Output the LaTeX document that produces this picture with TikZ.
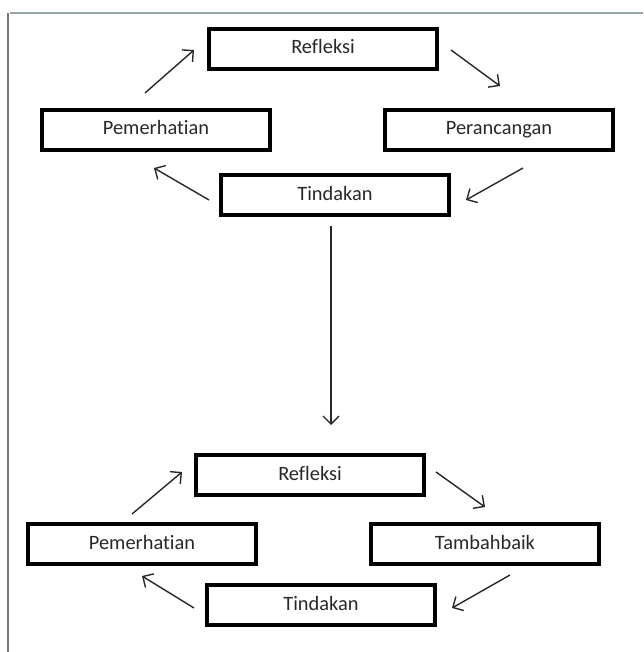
\documentclass[tikz,border=0pt]{standalone}
\usepackage{fontspec}
\setmainfont{Carlito}[Ligatures=NoCommon]
\usepackage{xcolor}
\usepackage{tikz}
\usetikzlibrary{arrows.meta, positioning, calc}
\definecolor{mydark}{RGB}{40,40,40}
\definecolor{mygrey}{RGB}{120,120,120}
\definecolor{myframe}{RGB}{150,165,170}
\tikzset{
  block/.style={rectangle, draw=black, fill=white,
    minimum width=114pt, minimum height=20pt,
    text height=7pt, text depth=2pt,
    font=\fontsize{10.2}{12}\selectfont, text=mydark, line width=2pt},
  arrow/.style={-{Straight Barb[length=4pt,width=8pt]}, line width=0.7pt, color=mydark},
  frame/.style={line width=1pt}
}

\begin{document}
\begin{tikzpicture}[x=0.5pt, y=-0.5pt]

  \useasboundingbox (0,0) rectangle (643,652);

  % Frame
  \draw[frame, color=myframe] (10,13) -- (643,13);
  \draw[frame, color=mygrey] (8,13) -- (8,652);

  % Nodes (first cycle)
  \node[block] (ref1) at (323,49) {Refleksi};
  \node[block] (pem1) at (156,130) {Pemerhatian};
  \node[block] (per1) at (499,130) {Perancangan};
  \node[block] (tin1) at (335,195) {Tindakan};

  % Nodes (second cycle)
  \node[block] (ref2) at (310,475) {Refleksi};
  \node[block] (pem2) at (142,544) {Pemerhatian};
  \node[block] (tam2) at (485,544) {Tambahbaik};
  \node[block] (tin2) at (321,605) {Tindakan};

  % Paths
  \draw[arrow] ([shift={(-11,-15)}]pem1.north) -- ([shift={(-13,1)}]ref1.west);
  \draw[arrow] ([shift={(12,1)}]ref1.east) -- ([shift={(1,-22)}]per1.north);
  \draw[arrow] ([shift={(24,16)}]per1.south) -- ([shift={(15,5)}]tin1.east);
  \draw[arrow] ([shift={(-10,5)}]tin1.west) -- ([shift={(-2,16)}]pem1.south);

  \draw[arrow] ([shift={(-4,9)}]tin1.south) -- ([shift={(21,-28)}]ref2.north);

  \draw[arrow] ([shift={(-10,-8)}]pem2.north) -- ([shift={(-12,-3)}]ref2.west);
  \draw[arrow] ([shift={(10,-3)}]ref2.east) -- ([shift={(0,-15)}]tam2.north);
  \draw[arrow] ([shift={(25,9)}]tam2.south) -- ([shift={(15,3)}]tin2.east);
  \draw[arrow] ([shift={(-11,3)}]tin2.west) -- ([shift={(0,10)}]pem2.south);

\end{tikzpicture}
\end{document}
